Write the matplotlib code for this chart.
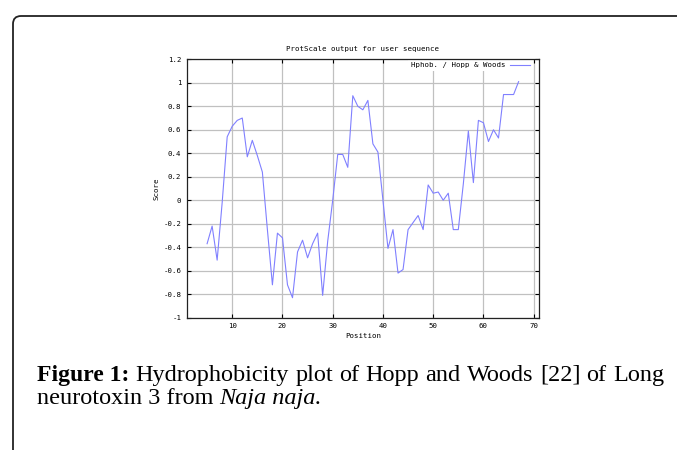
import matplotlib
matplotlib.use("Agg")
import matplotlib.pyplot as plt
from matplotlib.ticker import MultipleLocator, FuncFormatter
from matplotlib.path import Path
from matplotlib.patches import PathPatch

TITLE = "ProtScale output for user sequence"
X_LABEL = "Position"
Y_LABEL = "Score"
LEGEND = "Hphob. / Hopp & Woods"
CAPTION_BOLD = "Figure 1:"
CAPTION_1 = "Hydrophobicity plot of Hopp and Woods [22] of Long"
CAPTION_2 = "neurotoxin 3 from"
CAPTION_ITALIC = "Naja naja."

# window centre positions and Hopp & Woods scores
position = list(range(5, 68))
score = [-0.37, -0.22, -0.51, -0.02, 0.54, 0.63, 0.68, 0.70, 0.37, 0.51,
         0.38, 0.24, -0.25, -0.72, -0.28, -0.32, -0.72, -0.83, -0.44, -0.34,
         -0.49, -0.37, -0.28, -0.81, -0.35, 0.0, 0.39, 0.39, 0.28, 0.89,
         0.80, 0.77, 0.85, 0.48, 0.41, 0.0, -0.41, -0.25, -0.62, -0.59,
         -0.25, -0.19, -0.13, -0.25, 0.13, 0.06, 0.07, 0.0, 0.06, -0.25,
         -0.25, 0.14, 0.59, 0.15, 0.68, 0.66, 0.50, 0.60, 0.53, 0.90,
         0.90, 0.90, 1.01]

W, H = 677, 450
MONO = "DejaVu Sans Mono"
SERIF = "Liberation Serif"
SMALL = 5.3
CAP = 17.5

fig = plt.figure(figsize=(W / 100, H / 100), dpi=100)

# overlay in pixel coordinates for the frame and caption
bg = fig.add_axes([0, 0, 1, 1])
bg.set_xlim(0, W)
bg.set_ylim(H, 0)
bg.axis("off")
r = 8
verts = [(13, H + 5), (13, 16 + r), (13, 16), (13 + r, 16), (W + 5, 16)]
codes = [Path.MOVETO, Path.LINETO, Path.CURVE3, Path.CURVE3, Path.LINETO]
bg.add_patch(PathPatch(Path(verts, codes), fill=False, lw=1.3, ec="#222222"))

# first caption line, justified between x=37 and x=664
renderer = fig.canvas.get_renderer()
words = [(CAPTION_BOLD, "bold", 17)] + [(w, "normal", CAP) for w in CAPTION_1.split()]
items = []
for w, wt, fs in words:
    t = bg.text(0, 381, w, fontsize=fs, fontweight=wt, family=SERIF,
                va="baseline", ha="left")
    items.append((t, t.get_window_extent(renderer).width))
total = sum(wd for _, wd in items)
gap = (664 - 37 - total) / (len(items) - 1)
x = 37
for t, wd in items:
    t.set_x(x)
    x += wd + gap

t2 = bg.text(37, 404, CAPTION_2, fontsize=CAP, family=SERIF,
             va="baseline", ha="left")
w2 = t2.get_window_extent(renderer).width
bg.text(37 + w2 + 6, 404, CAPTION_ITALIC, fontsize=CAP, family=SERIF,
        style="italic", va="baseline", ha="left")

ax = fig.add_axes([187 / W, 1 - 317.7 / H, (538.7 - 187) / W, (317.7 - 59.3) / H])
ax.plot(position, score, color="#8080ff", lw=0.8, label=LEGEND)

ax.set_xlim(1, 71)
ax.set_ylim(-1, 1.2)
ax.xaxis.set_major_locator(MultipleLocator(10))
ax.yaxis.set_major_locator(MultipleLocator(0.2))
ax.yaxis.set_major_formatter(FuncFormatter(lambda v, p: "%g" % round(v, 2)))
ax.grid(color="#c0c0c0", lw=0.9)
ax.set_axisbelow(True)
ax.tick_params(direction="in", length=3, width=0.8, top=True, right=True,
               labelsize=SMALL, pad=4)
for lab in ax.get_xticklabels() + ax.get_yticklabels():
    lab.set_family(MONO)
for s in ax.spines.values():
    s.set_linewidth(0.9)
    s.set_color("#222222")

ax.set_title(TITLE, fontsize=SMALL, family=MONO, pad=6)
ax.set_xlabel(X_LABEL, fontsize=SMALL, family=MONO, labelpad=3)
ax.set_ylabel(Y_LABEL, fontsize=SMALL, family=MONO, labelpad=2.5)
leg = ax.legend(loc="upper right", bbox_to_anchor=(1, 1 + 6 / 258.4),
                frameon=True, facecolor="white", edgecolor="none",
                framealpha=1, fancybox=False,
                markerfirst=False, prop={"family": MONO, "size": SMALL},
                handlelength=2.7, borderaxespad=0.8, handletextpad=0.6)
leg.set_zorder(2.2)  # keep the spines drawn on top of the key box

fig.savefig("out.png", dpi=100)
